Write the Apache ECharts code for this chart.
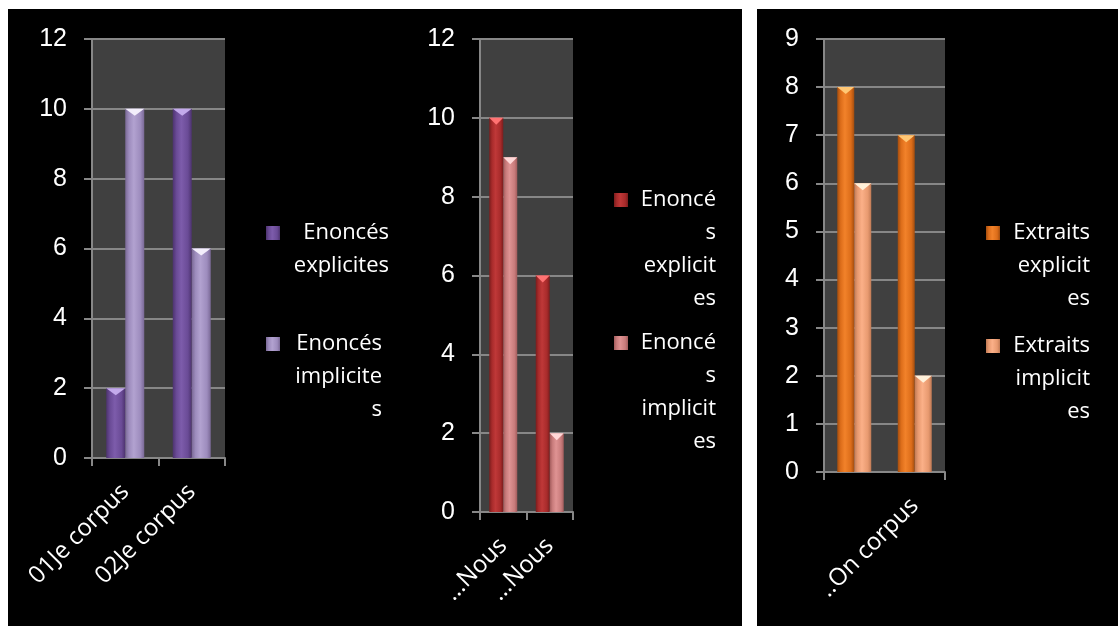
<!DOCTYPE html>
<html>
<head>
<meta charset="utf-8">
<title>Enoncés explicites et implicites</title>
<script src="https://cdn.jsdelivr.net/npm/echarts@6.0.0/dist/echarts.min.js"></script>
<style>
  html, body { margin: 0; padding: 0; background: #fff; }
  #chart { width: 1118px; height: 626px; }
</style>
</head>
<body>
<div id="chart"></div>
<script>
// ---- data ----
const catsJe = ['01Je corpus', '02Je corpus'];
const jeExplicit = [2, 10];
const jeImplicit = [10, 6];

const catsNous = ['…Nous', '…Nous'];
const nousExplicit = [10, 6];
const nousImplicit = [9, 2];

const catsOn = ['..On corpus', '..On corpus'];
const onExplicit = [8, 7];
const onImplicit = [6, 2];

const yMaxJe = 12, yStepJe = 2;
const yMaxNous = 12, yStepNous = 2;
const yMaxOn = 9, yStepOn = 1;

const legendJe = [['Enoncés', 'explicites'], ['Enoncés', 'implicite', 's']];
const legendNous = [['Enoncé', 's', 'explicit', 'es'], ['Enoncé', 's', 'implicit', 'es']];
const legendOn = [['Extraits', 'explicit', 'es'], ['Extraits', 'implicit', 'es']];

// ---- styling helpers ----
const FONT_TICK = 'Liberation Sans, Arial, sans-serif';
const FONT_TEXT = 'Open Sans, Noto Sans, sans-serif';
const LINE = '#878787';
const LH = 33;

function shade(edge, mid, light) {
  return {
    type: 'linear', x: 0, y: 0, x2: 1, y2: 0,
    colorStops: [
      { offset: 0, color: edge },
      { offset: 0.2, color: mid },
      { offset: 0.45, color: light },
      { offset: 0.8, color: mid },
      { offset: 1, color: edge }
    ]
  };
}

const panels = [
  {
    grid: { left: 92, top: 39, width: 133, height: 419 },
    cats: catsJe, max: yMaxJe, step: yStepJe, barWidth: 19,
    showLabel: () => true,
    series: [
      { name: 'Je : Enoncés explicites', values: jeExplicit, lines: legendJe[0],
        color: shade('#4d336f', '#6a4b96', '#7d5cab'), tip: '#c3aaeb',
        legend: { left: 266, y: 233, width: 104 } },
      { name: 'Je : Enoncés implicites', values: jeImplicit, lines: legendJe[1],
        color: shade('#7a6996', '#9d8cbd', '#b2a2d0'), tip: '#f3eefb',
        legend: { left: 266, y: 344, width: 97 } }
    ]
  },
  {
    grid: { left: 480, top: 39, width: 93, height: 473 },
    cats: catsNous, max: yMaxNous, step: yStepNous, barWidth: 14,
    showLabel: () => true,
    series: [
      { name: 'Nous : Enoncés explicites', values: nousExplicit, lines: legendNous[0],
        color: shade('#7a1d1d', '#a82b2b', '#bf3838'), tip: '#ff7272',
        legend: { left: 614, y: 200, width: 83 } },
      { name: 'Nous : Enoncés implicites', values: nousImplicit, lines: legendNous[1],
        color: shade('#a25c5c', '#c97c7c', '#df9393'), tip: '#ffd8d8',
        legend: { left: 614, y: 343, width: 83 } }
    ]
  },
  {
    grid: { left: 824, top: 39, width: 121, height: 433 },
    cats: catsOn, max: yMaxOn, step: yStepOn, barWidth: 17,
    showLabel: (idx) => idx === 1,
    series: [
      { name: 'On : Extraits explicites', values: onExplicit, lines: legendOn[0],
        color: shade('#a44d0e', '#dc6d1a', '#f2822a'), tip: '#ffc775',
        legend: { left: 986, y: 233, width: 85 } },
      { name: 'On : Extraits implicites', values: onImplicit, lines: legendOn[1],
        color: shade('#c07a55', '#e89a70', '#fbb088'), tip: '#fff1da',
        legend: { left: 986, y: 346, width: 85 } }
    ]
  }
];

const grid = [], xAxis = [], yAxis = [], series = [], legend = [];

panels.forEach((p, i) => {
  grid.push(Object.assign({
    show: true, backgroundColor: '#404040', borderWidth: 0, containLabel: false,
    outerBoundsMode: 'none'
  }, p.grid));

  xAxis.push({
    gridIndex: i, type: 'category', data: p.cats,
    axisLine: { show: true, lineStyle: { color: LINE, width: 2 } },
    axisTick: { show: true, length: 8, lineStyle: { color: LINE, width: 2 } },
    axisLabel: {
      rotate: 45, margin: 30, color: '#fff', fontFamily: FONT_TEXT, fontSize: 24,
      interval: (idx) => p.showLabel(idx)
    },
    splitLine: { show: false }
  });

  yAxis.push({
    gridIndex: i, type: 'value', min: 0, max: p.max, interval: p.step,
    axisLine: { show: true, lineStyle: { color: LINE, width: 2 } },
    axisTick: { show: true, length: 8, lineStyle: { color: LINE, width: 2 } },
    splitLine: { show: true, lineStyle: { color: LINE, width: 2 } },
    axisLabel: { margin: 25, color: '#fff', fontFamily: FONT_TICK, fontSize: 25 }
  });

  p.series.forEach((s) => {
    series.push({
      type: 'bar', name: s.name, xAxisIndex: i, yAxisIndex: i,
      data: s.values, barWidth: p.barWidth, barGap: '0%',
      itemStyle: { color: s.color },
      emphasis: { disabled: true }
    });
    // bevelled cap on top of each column
    series.push({
      type: 'pictorialBar', xAxisIndex: i, yAxisIndex: i,
      data: s.values, barWidth: p.barWidth, barGap: '0%',
      symbol: 'triangle', symbolRotate: 180, symbolSize: [p.barWidth, 7],
      symbolPosition: 'end', itemStyle: { color: s.tip }, z: 3, silent: true
    });

    const n = s.lines.length;
    legend.push({
      left: s.legend.left,
      top: s.legend.y - (2 * n - 1) * LH / 2,
      padding: 0, orient: 'vertical', selectedMode: false,
      itemWidth: 14, itemHeight: 14, icon: 'rect',
      data: [s.name],
      formatter: () => s.lines.map((t) => '{r|' + t + '}').join('\n'),
      textStyle: {
        color: '#fff', fontFamily: FONT_TEXT, fontSize: 22, lineHeight: LH,
        width: s.legend.width, padding: [(n - 1) * LH, 0, 0, 0],
        rich: { r: { align: 'right', color: '#fff', fontFamily: FONT_TEXT, fontSize: 22, lineHeight: LH } }
      }
    });
  });
});

const chart = echarts.init(document.getElementById('chart'), null, { renderer: 'canvas' });
chart.setOption({
  animation: false,
  backgroundColor: '#000',
  // white frame and gutter between the two black panels
  graphic: [
    { type: 'rect', shape: { x: 0, y: 0, width: 1118, height: 9 }, style: { fill: '#fff' }, silent: true },
    { type: 'rect', shape: { x: 0, y: 0, width: 8, height: 626 }, style: { fill: '#fff' }, silent: true },
    { type: 'rect', shape: { x: 742, y: 0, width: 15, height: 626 }, style: { fill: '#fff' }, silent: true }
  ],
  grid, xAxis, yAxis, legend, series
});
</script>
</body>
</html>
